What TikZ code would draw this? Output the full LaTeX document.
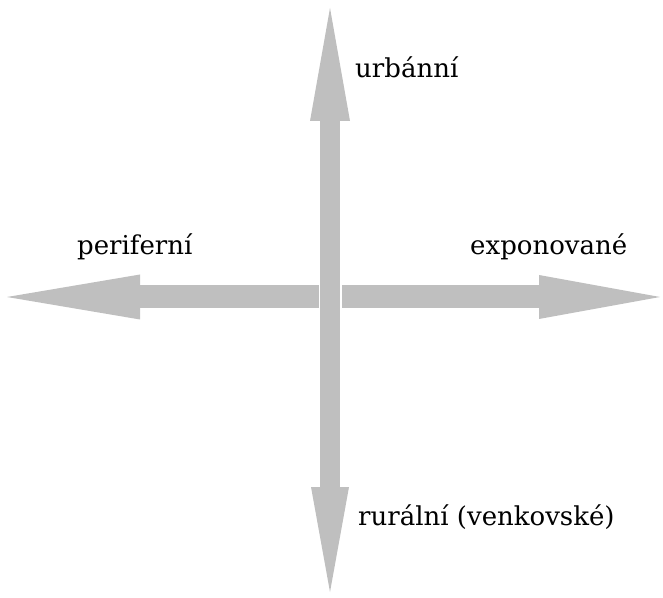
\documentclass[tikz,border=0pt]{standalone}
\usepackage{fontspec}
\setmainfont{DejaVu Serif}
\usepackage{xcolor}
\definecolor{axisgray}{RGB}{191, 191, 191}
\usepackage{tikz}
\usetikzlibrary{arrows.meta, positioning}
\tikzstyle{vaxis} = [draw=axisgray, line width=19.5pt, {Triangle[length=105pt, width=38pt, line width=0pt]}-{Triangle[length=113pt, width=40pt, line width=0pt]}]
\tikzstyle{haxis} = [draw=axisgray, line width=23pt]
\tikzstyle{axislabel} = [font=\fontsize{26}{30}\selectfont, inner sep=0pt, anchor=base west]

\begin{document}
\begin{tikzpicture}[x=1pt, y=1pt]
    \useasboundingbox (0,0) rectangle (663,597);

    % axis end points
    \coordinate (top) at (330,589);
    \coordinate (bottom) at (330,5);
    \coordinate (lend) at (319,300);
    \coordinate (ltip) at (7,300);
    \coordinate (rend) at (342,300);
    \coordinate (rtip) at (660,300);

    \draw[vaxis] (bottom) -- (top);
    \draw[haxis, -{Triangle[length=133pt, width=45pt, line width=0pt]}] (lend) -- (ltip);
    \draw[haxis, -{Triangle[length=121pt, width=44pt, line width=0pt]}] (rend) -- (rtip);

    \node[axislabel] (urban) at (355,519) {urbánní};
    \node[axislabel] (periph) at (77,342) {periferní};
    \node[axislabel] (exposed) at (470,342) {exponované};
    \node[axislabel] (rural) at (358,72) {rurální (venkovské)};
\end{tikzpicture}
\end{document}
